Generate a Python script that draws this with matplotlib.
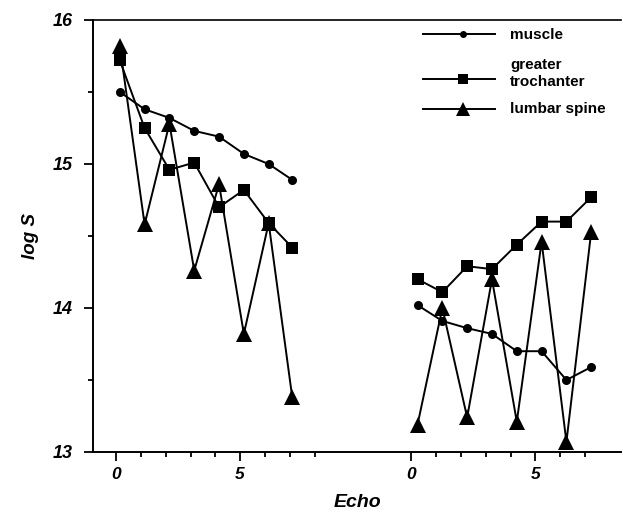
import matplotlib
matplotlib.use("Agg")
import matplotlib.pyplot as plt
from matplotlib.lines import Line2D
from matplotlib.ticker import FixedLocator, FixedFormatter

# ---------------- data ----------------
series_names = ["muscle", "greater\ntrochanter", "lumbar spine"]

# echo positions (axis units) of the points in the two groups
echo_left = [0.15, 1.15, 2.15, 3.15, 4.15, 5.15, 6.15, 7.10]
echo_right = [12.15, 13.15, 14.15, 15.15, 16.15, 17.15, 18.15, 19.15]

muscle_left = [15.50, 15.38, 15.32, 15.23, 15.19, 15.07, 15.00, 14.89]
trochanter_left = [15.72, 15.25, 14.96, 15.01, 14.70, 14.82, 14.59, 14.42]
spine_left = [15.82, 14.58, 15.28, 14.26, 14.86, 13.82, 14.59, 13.38]

muscle_right = [14.02, 13.91, 13.86, 13.82, 13.70, 13.70, 13.50, 13.59]
trochanter_right = [14.20, 14.11, 14.29, 14.27, 14.44, 14.60, 14.60, 14.77]
spine_right = [13.19, 14.00, 13.24, 14.20, 13.21, 14.46, 13.07, 14.53]

# tick positions / labels
xtick_major_pos = [0, 5, 11.9, 16.9]
xtick_major_lab = ["0", "5", "0", "5"]
xtick_minor_pos = [1, 2, 3, 4, 6, 7, 8, 12.9, 13.9, 14.9, 15.9, 17.9, 18.9]
ytick_major = [13, 14, 15, 16]
ytick_minor = [13.5, 14.5, 15.5]

# ---------------- figure ----------------
W, H = 623, 512
fig = plt.figure(figsize=(W / 100, H / 100), dpi=100)
ax = fig.add_axes([93 / W, 1 - 452 / H, 528 / W, 432 / H])

FONT = "Liberation Sans"
lw = 1.4

styles = [
    dict(marker="o", markersize=6.5),
    dict(marker="s", markersize=8.5),
    dict(marker="^", markersize=11),
]
left_sets = [muscle_left, trochanter_left, spine_left]
right_sets = [muscle_right, trochanter_right, spine_right]

for st, yl, yr in zip(styles, left_sets, right_sets):
    ax.plot(echo_left, yl, color="black", lw=lw, markeredgewidth=0, clip_on=False, **st)
    ax.plot(echo_right, yr, color="black", lw=lw, markeredgewidth=0, clip_on=False, **st)

ax.set_xlim(-0.93, 20.35)
ax.set_ylim(13, 16)

# spines
ax.spines["right"].set_visible(False)
for s in ["left", "bottom", "top"]:
    ax.spines[s].set_linewidth(1.4)
ax.spines["top"].set_linewidth(1.2)

# ticks
ax.xaxis.set_major_locator(FixedLocator(xtick_major_pos))
ax.xaxis.set_major_formatter(FixedFormatter(xtick_major_lab))
ax.xaxis.set_minor_locator(FixedLocator(xtick_minor_pos))
ax.yaxis.set_major_locator(FixedLocator(ytick_major))
ax.yaxis.set_minor_locator(FixedLocator(ytick_minor))

ax.tick_params(axis="x", which="major", direction="out", length=6.5, width=1.3, pad=4)
ax.tick_params(axis="x", which="minor", direction="out", length=3.5, width=1.3)
ax.tick_params(axis="y", which="major", direction="out", length=6.5, width=1.3, pad=8)
ax.tick_params(axis="y", which="minor", direction="out", length=3.5, width=1.3)
ax.tick_params(top=False, right=False)

for lab in ax.get_xticklabels():
    lab.set_fontfamily(FONT)
    lab.set_fontweight("bold")
    lab.set_fontstyle("italic")
    lab.set_fontsize(12.5)
for lab in ax.get_yticklabels():
    lab.set_fontfamily(FONT)
    lab.set_fontweight("bold")
    lab.set_fontstyle("italic")
    lab.set_fontsize(13)

ax.set_xlabel("Echo", fontfamily=FONT, fontweight="bold", fontstyle="italic", fontsize=14, labelpad=9)
ax.set_ylabel("log S", fontfamily=FONT, fontweight="bold", fontstyle="italic", fontsize=13.5, labelpad=10)

# ---------------- legend (drawn in axes fraction) ----------------
leg_x0, leg_x1, leg_xm = 0.625, 0.761, 0.700
leg_text_x = 0.790
leg_line_y = [0.9676, 0.8627, 0.7933]
leg_text_y = [0.965, 0.877, 0.794]
leg_marker_sizes = [5, 7, 10]
for (st, ms, ly, ty, name) in zip(styles, leg_marker_sizes, leg_line_y, leg_text_y, series_names):
    ax.add_line(Line2D([leg_x0, leg_x1], [ly, ly], color="black", lw=lw,
                       transform=ax.transAxes, clip_on=False))
    ax.add_line(Line2D([leg_xm], [ly], color="black", lw=0, marker=st["marker"],
                       markersize=ms, markeredgewidth=0,
                       transform=ax.transAxes, clip_on=False))
    ax.text(leg_text_x, ty, name, transform=ax.transAxes, ha="left", va="center",
            fontfamily=FONT, fontweight="bold", fontsize=11, linespacing=1.25)

fig.savefig("out.png", dpi=100)
